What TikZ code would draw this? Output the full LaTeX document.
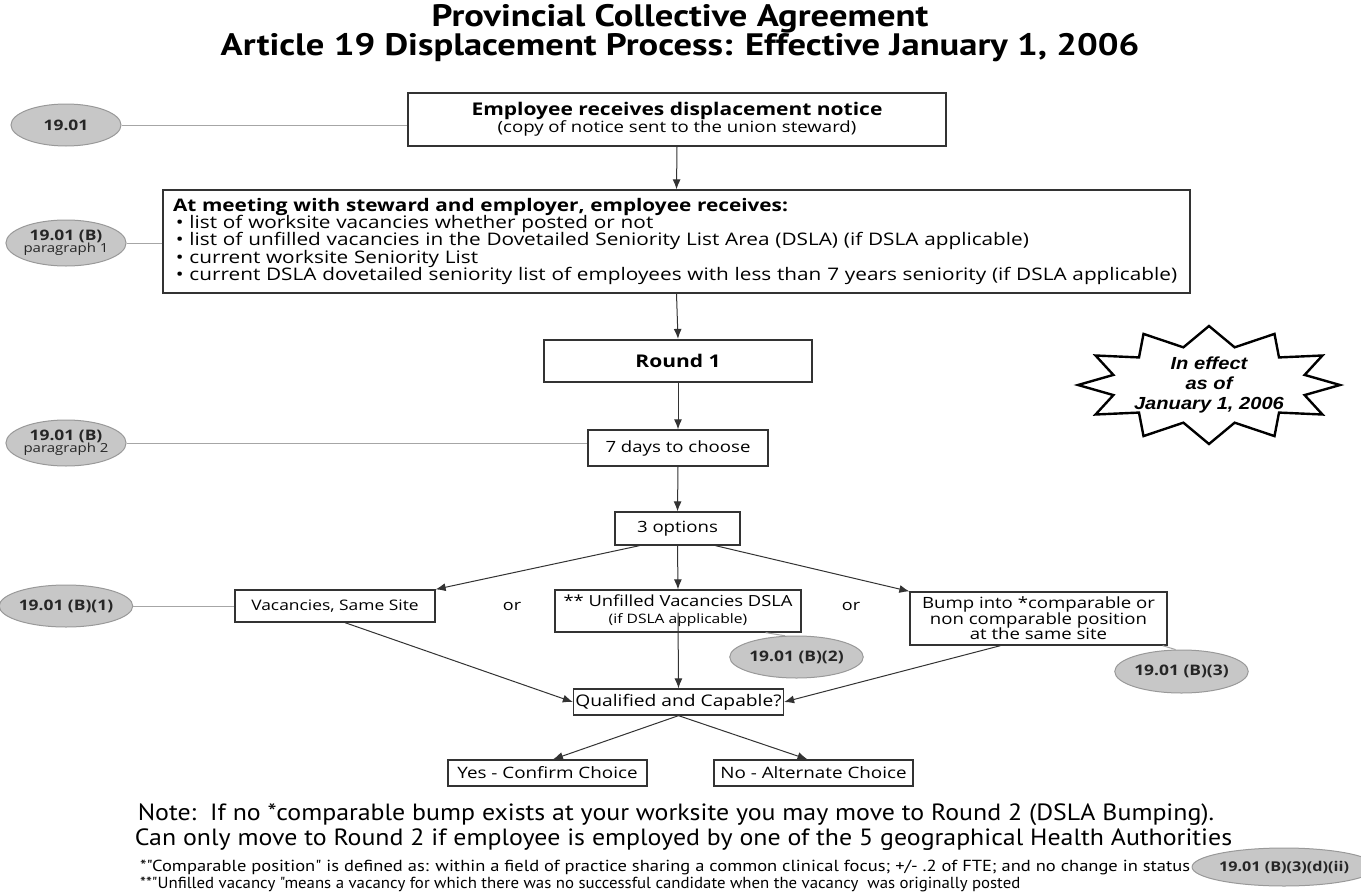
\documentclass[tikz,border=0pt]{standalone}
\usepackage{graphicx}
\usepackage{fontspec}
\setmainfont{Open Sans}[FakeStretch=1.2]
\newfontfamily\titlefont{PT Sans}
\newfontfamily\starfont{Liberation Sans}[FakeStretch=1.15]
\usetikzlibrary{arrows.meta,shapes.geometric}
\begin{document}
\begin{tikzpicture}[x=1pt,y=-1pt,
  box/.style={draw=black!80, line width=1.3pt, fill=white, inner sep=0pt, align=center,
              font=\fontsize{15.5}{17}\selectfont},
  ref/.style={ellipse, draw=black!40, fill=black!22, line width=1pt, inner sep=0pt, align=center,
              minimum width=110pt, minimum height=42pt, text=black!85,
              font=\fontsize{14.5}{15}\selectfont\bfseries},
  link/.style={draw=black!35, line width=1pt},
  arr/.style={draw=black!80, line width=1pt, -{Latex[length=10pt,width=8pt]}},
  titletext/.style={font=\titlefont\fontsize{31}{31}\selectfont\bfseries, inner sep=0pt},
  notetext/.style={font=\titlefont\fontsize{23.5}{23.5}\selectfont, inner sep=0pt},
  foot/.style={font=\titlefont\fontsize{16}{16}\selectfont, inner sep=0pt, anchor=west},
  ortext/.style={font=\fontsize{15}{15}\selectfont, inner sep=0pt},
  startext/.style={font=\starfont\fontsize{17.5}{19.6}\selectfont\bfseries\itshape, align=center, inner sep=0pt},
  starline/.style={draw=black, line width=2.4pt, line join=miter},
]
\path[use as bounding box, fill=white] (0,0) rectangle (1361,894);

% titles
\node[titletext] (t1) at (680,19) {\scalebox{1.18}[1]{Provincial Collective Agreement}};
\node[titletext] (t2) at (680,48) {\scalebox{1.18}[1]{Article 19 Displacement Process: Effective January 1, 2006}};

% boxes
\node[box, minimum width=538pt, minimum height=53pt] (n1) at (677,119.5)
  {{\fontsize{17.5}{19}\selectfont\bfseries Employee receives displacement notice}\\[0pt]
   {\fontsize{15.5}{17}\selectfont (copy of notice sent to the union steward)}};

\node[box, align=left, text width=1007pt, inner xsep=10pt, minimum height=103pt,
      font=\fontsize{17.3}{17.4}\selectfont] (n2) at (676.5,241.5)
  {{\bfseries At meeting with steward and employer, employee receives:}\\
   \,\textbullet\ list of worksite vacancies whether posted or not\\
   \,\textbullet\ list of unfilled vacancies in the Dovetailed Seniority List Area (DSLA) (if DSLA applicable)\\
   \,\textbullet\ current worksite Seniority List\\
   \,\textbullet\ current DSLA dovetailed seniority list of employees with less than 7 years seniority (if DSLA applicable)};

\node[box, line width=2.2pt, minimum width=268pt, minimum height=42pt,
      font=\fontsize{17.5}{18}\selectfont\bfseries] (r1) at (678,361) {Round 1};

\node[box, minimum width=180pt, minimum height=36pt] (d7) at (678,448) {7 days to choose};

\node[box, minimum width=125pt, minimum height=33pt] (o3) at (677.5,528.5) {3 options};

\node[box, minimum width=200pt, minimum height=32pt, font=\fontsize{14.5}{15}\selectfont] (vac) at (335,606) {Vacancies, Same Site};

\node[box, minimum width=246pt, minimum height=42pt] (unf) at (678,611)
  {{\fontsize{15.3}{15.5}\selectfont ** Unfilled Vacancies DSLA}\\
   {\fontsize{13}{14}\selectfont (if DSLA applicable)}};

\node[box, minimum width=257pt, minimum height=53pt, font=\fontsize{15.5}{15.6}\selectfont] (bump) at (1038.5,618.5)
  {Bump into *comparable or\\non comparable position\\at the same site};

\node[ortext] (or1) at (512,606) {or};
\node[ortext] (or2) at (851,606) {or};

\node[box, minimum width=210pt, minimum height=26pt, font=\fontsize{16}{16}\selectfont] (qc) at (678.5,702) {Qualified and Capable?};

\node[box, minimum width=199pt, minimum height=26pt, font=\fontsize{15.7}{16}\selectfont] (yes) at (547.5,773) {Yes - Confirm Choice};
\node[box, minimum width=199pt, minimum height=26pt, font=\fontsize{15.7}{16}\selectfont] (no) at (813.5,773) {No - Alternate Choice};

% reference ellipses
\node[ref] (e1) at (66,125) {19.01};
\node[ref, minimum height=46pt] (e2) at (66,243) {19.01 (B)\\[-3pt]{\fontsize{12.5}{13}\selectfont\mdseries paragraph 1}};
\node[ref, minimum height=46pt] (e3) at (66,443) {19.01 (B)\\[-3pt]{\fontsize{12.5}{13}\selectfont\mdseries paragraph 2}};
\node[ref] (e4) at (66,606) {19.01 (B)(1)};
\node[ref, minimum width=113pt] (e5) at (796.5,657) {19.01 (B)(2)};
\node[ref, minimum width=113pt, minimum height=43pt] (e6) at (1181.5,671.5) {19.01 (B)(3)};
\node[ref, minimum width=150pt, minimum height=38pt, font=\fontsize{13.5}{14}\selectfont\bfseries] (e7) at (1284,867) {19.01 (B)(3)(d)(ii)};

% starburst
\node[startext] (star) at (1209,385) {In effect\\as of\\January 1, 2006};
\draw[starline, shift={(star.center)}]
  plot[samples=24, domain=0:23, variable=\k]
  ({ifthenelse(mod(\k,2)==0,131,99)*cos(\k*15)}, {ifthenelse(mod(\k,2)==0,59,39)*sin(\k*15)}) -- cycle;

% notes
\node[notetext] (note1) at (676,815) {\scalebox{1.1}[1]{Note:\ \ If no *comparable bump exists at your worksite you may move to Round 2 (DSLA Bumping).}};
\node[notetext] (note2) at (683.5,840) {\scalebox{1.1}[1]{Can only move to Round 2 if employee is employed by one of the 5 geographical Health Authorities}};
\node[foot] (f1) at (140,867) {\scalebox{1.156}[1]{*"Comparable position" is defined as: within a field of practice sharing a common clinical focus; +/- .2 of FTE; and no change in status}};
\node[foot] (f2) at (140,884) {\scalebox{1.05}[1]{**"Unfilled vacancy "means a vacancy for which there was no successful candidate when the vacancy\ \ was originally posted}};

% links
\draw[link] (e1.east) -- (e1.east -| n1.west);
\draw[link] (e2.east) -- (e2.east -| n2.west);
\draw[link] (e3.east) -- (e3.east -| d7.west);
\draw[link] (e4.east) -- (e4.east -| vac.west);
\draw[link] (e5.118) -- ([xshift=-36]unf.south east);
\draw[link] (e6.105) -- ([xshift=-5]bump.south east);
\draw[link] ([xshift=2]f1.east) -- (e7.west);

% arrows
\draw[arr] (n1.south) -- (n2.north);
\draw[arr] (n2.south) -- (r1.north);
\draw[arr] (r1.south) -- (d7.north);
\draw[arr] (d7.south) -- (o3.north);
\draw[arr] ([xshift=-38]o3.south) -- (vac.north east);
\draw[arr] (o3.south) -- (unf.north);
\draw[arr] ([xshift=38]o3.south) -- (bump.north west);
\draw[arr] ([xshift=10]vac.south) -- (qc.west);
\draw[arr] ([yshift=20]unf.south) -- (qc.north);
\draw[arr] ([xshift=-38]bump.south) -- (qc.east);
\draw[arr] (qc.south) -- ([xshift=5.5]yes.north);
\draw[arr] (qc.south) -- ([xshift=-6]no.north);
\end{tikzpicture}
\end{document}
